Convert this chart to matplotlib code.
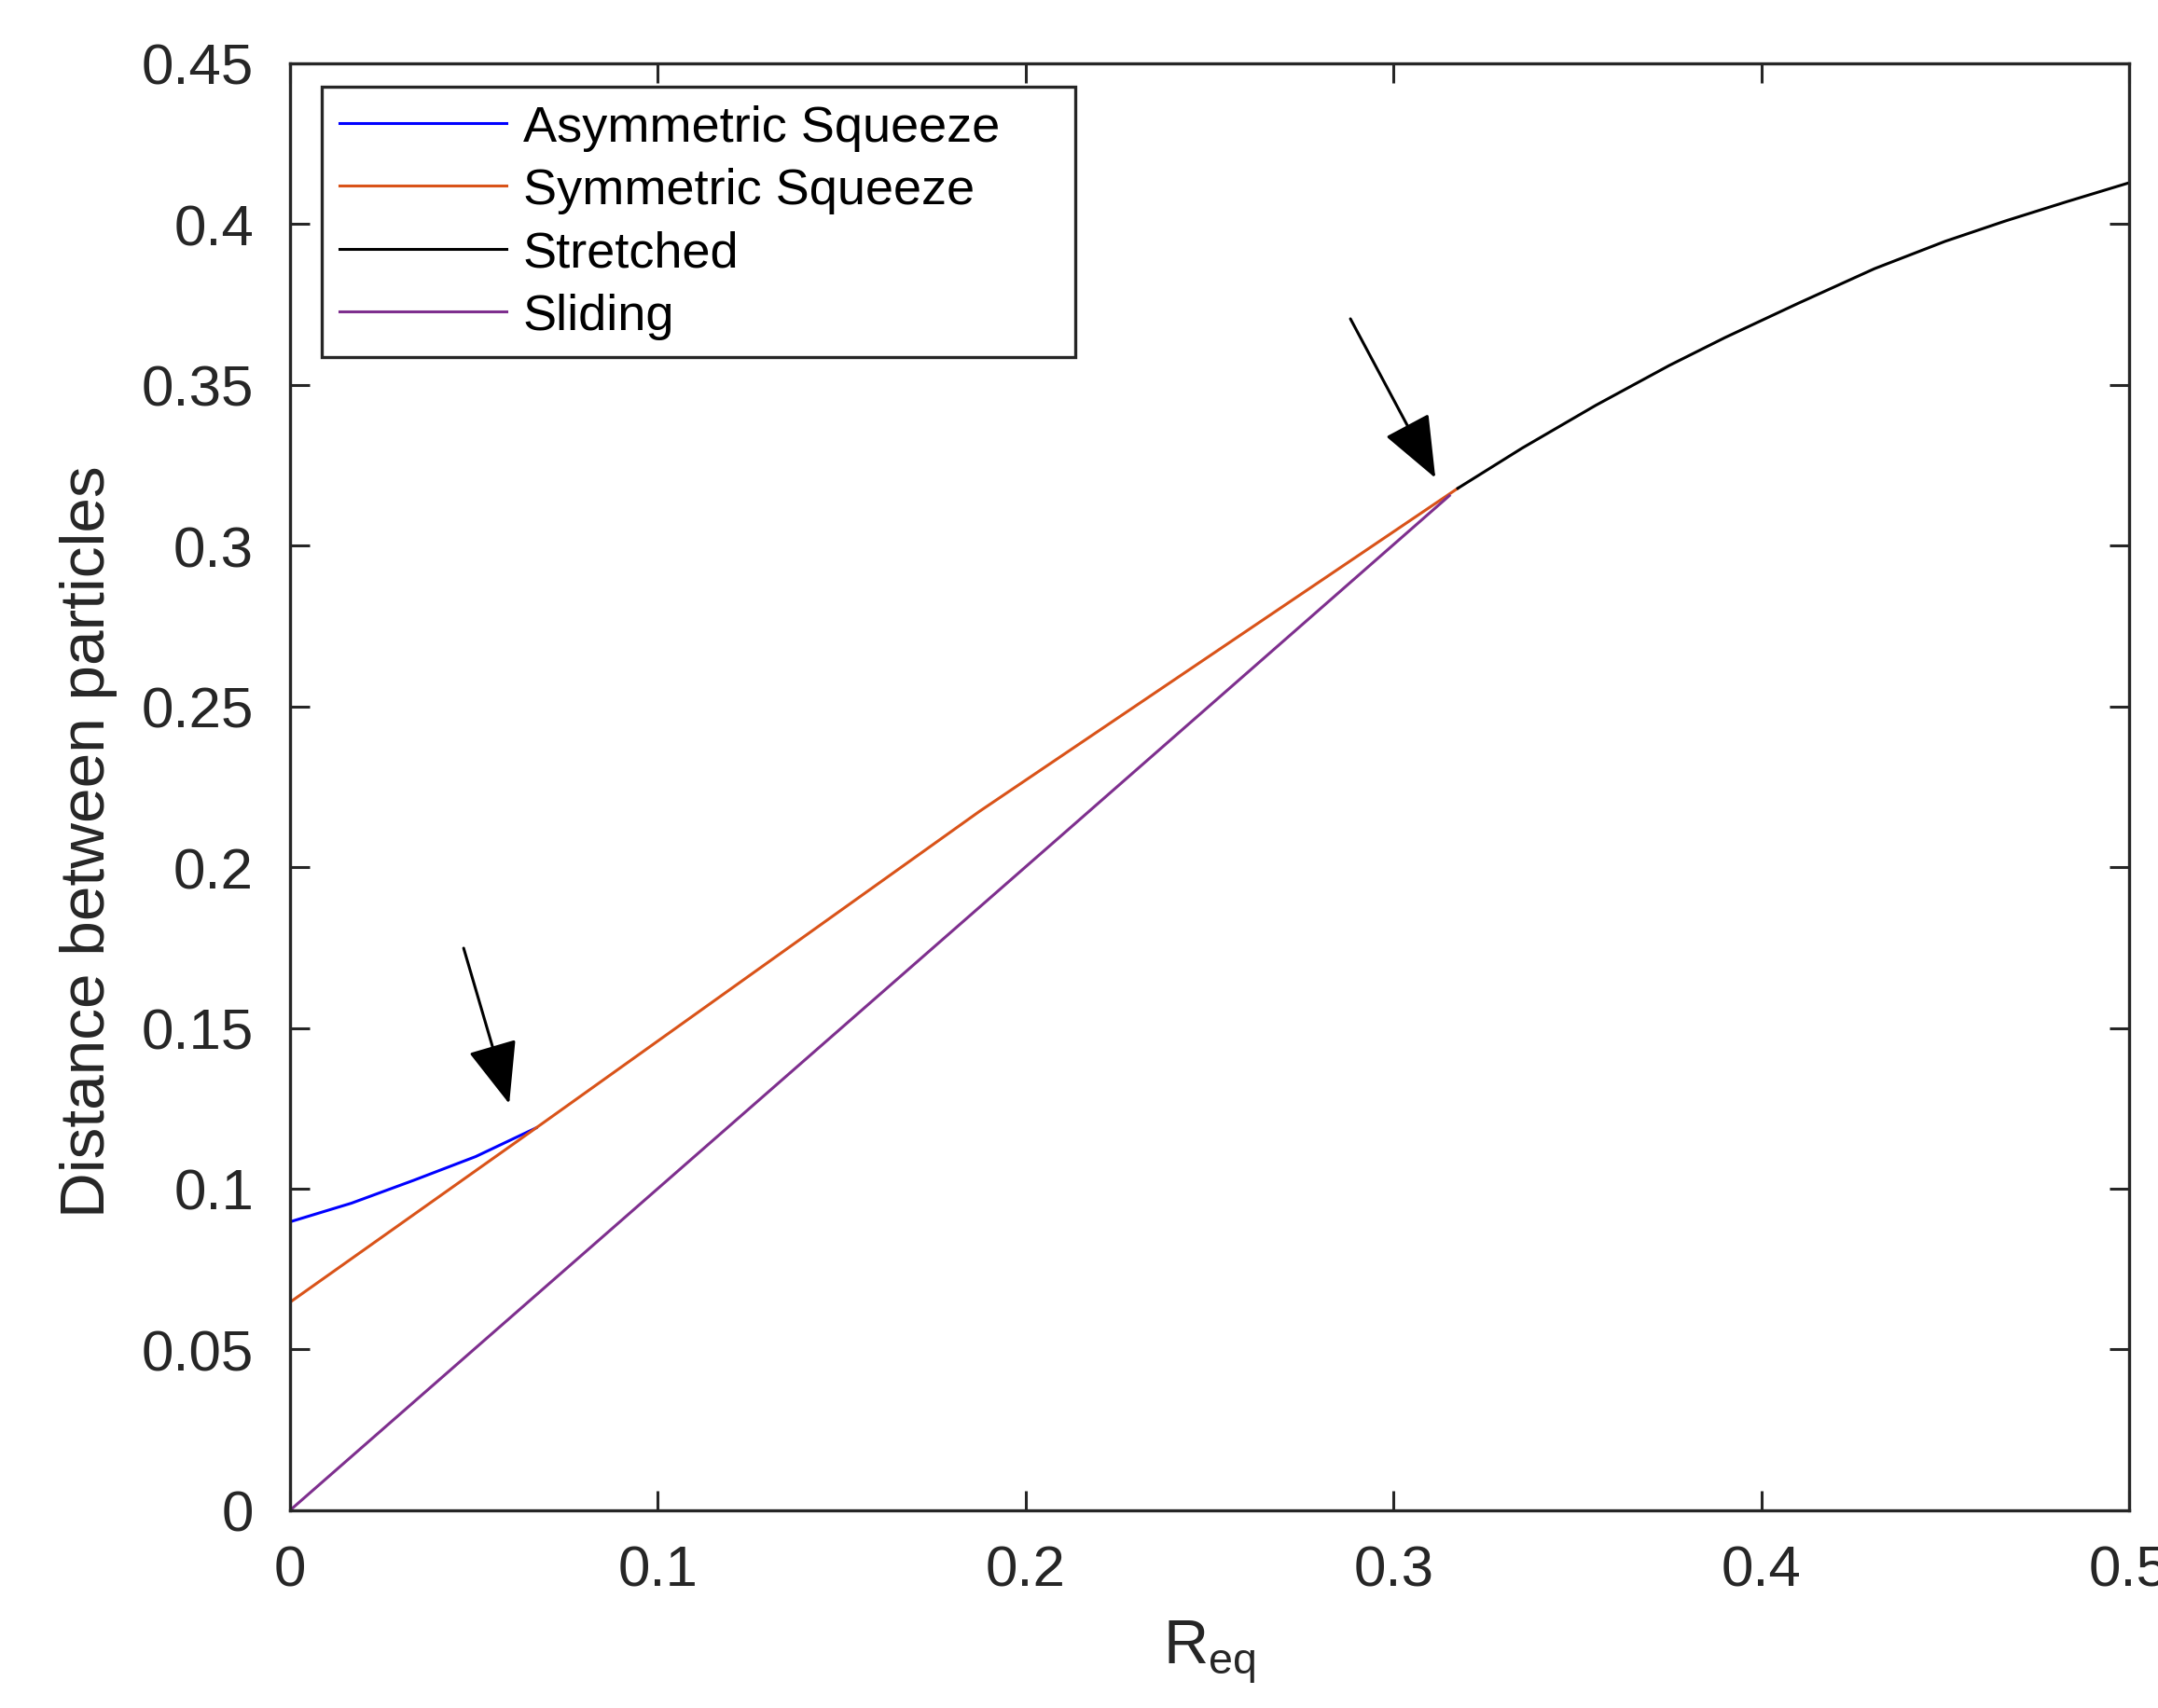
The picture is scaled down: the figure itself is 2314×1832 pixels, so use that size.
import matplotlib
matplotlib.use("Agg")
import matplotlib.pyplot as plt

plt.rcParams['font.family'] = ['Liberation Sans', 'DejaVu Sans']
plt.rcParams['mathtext.fontset'] = 'custom'
plt.rcParams['mathtext.rm'] = 'Liberation Sans'

# curves
asym_x = [0.0, 0.0167, 0.0336, 0.0505, 0.0669]
asym_y = [0.0897, 0.0955, 0.1026, 0.1100, 0.1189]

sym_x = [0.0, 0.0669, 0.1874, 0.3175]
sym_y = [0.0647, 0.1189, 0.2173, 0.3178]

stretch_x = [0.3175, 0.335, 0.355, 0.375, 0.3902, 0.41, 0.4308, 0.45, 0.4663, 0.483, 0.5]
stretch_y = [0.3178, 0.3303, 0.3436, 0.3560, 0.3647, 0.3753, 0.3861, 0.3946, 0.4009, 0.4069, 0.4128]

slide_x = [0.0, 0.2089, 0.3152]
slide_y = [0.0, 0.2090, 0.3155]

labels = ["Asymmetric Squeeze", "Symmetric Squeeze", "Stretched", "Sliding"]
colors = [(0, 0, 1), (0.85, 0.325, 0.098), (0, 0, 0), (0.494, 0.184, 0.556)]

# arrows (tail, tip) in data units
arrow_tails = [(0.0472, 0.1748), (0.2883, 0.3705)]
arrow_tips = [(0.0596, 0.1264), (0.3114, 0.3210)]

xticks = [0, 0.1, 0.2, 0.3, 0.4, 0.5]
yticks = [0, 0.05, 0.1, 0.15, 0.2, 0.25, 0.3, 0.35, 0.4, 0.45]

axcol = (0.15, 0.15, 0.15)

fig = plt.figure(figsize=(11.57, 9.165), dpi=200)
fig.subplots_adjust(left=0.1344, right=0.9866, bottom=0.1157, top=0.9625)
ax = fig.add_subplot(111)

lw = 1.1
ax.plot(asym_x, asym_y, color=colors[0], lw=lw, label=labels[0])
ax.plot(sym_x, sym_y, color=colors[1], lw=lw, label=labels[1])
ax.plot(stretch_x, stretch_y, color=colors[2], lw=lw, label=labels[2])
ax.plot(slide_x, slide_y, color=colors[3], lw=lw, label=labels[3])

for tail, tip in zip(arrow_tails, arrow_tips):
    ax.annotate('', xy=tip, xytext=tail,
                arrowprops=dict(arrowstyle='-|>,head_length=1.05,head_width=0.42',
                                mutation_scale=20, lw=1.1, color='k',
                                shrinkA=0, shrinkB=0))

ax.set_xlim(0, 0.5)
ax.set_ylim(0, 0.45)
ax.set_xticks(xticks)
ax.set_yticks(yticks)
ax.set_xticklabels(['0', '0.1', '0.2', '0.3', '0.4', '0.5'])
ax.set_yticklabels(['0', '0.05', '0.1', '0.15', '0.2', '0.25', '0.3', '0.35', '0.4', '0.45'])
ax.tick_params(direction='in', length=7.6, width=1.1, colors=axcol,
               labelsize=22.3, top=True, right=True)
ax.tick_params(axis='y', pad=14)
ax.tick_params(axis='x', pad=13)
for s in ax.spines.values():
    s.set_color(axcol)
    s.set_linewidth(1.2)

ax.set_xlabel(r'R$_\mathregular{eq}$', fontsize=24, color=axcol, labelpad=8)
ax.set_ylabel('Distance between particles', fontsize=24.3, color=axcol)
ax.yaxis.set_label_coords(-0.094, 0.463)

leg = ax.legend(loc='upper left', bbox_to_anchor=(0.0172, 0.800, 0.4098, 0.1837),
                mode='expand', fontsize=19.5,
                frameon=True, fancybox=False, framealpha=1, edgecolor=axcol,
                handlelength=3.3, handletextpad=0.33, labelspacing=0.32,
                borderpad=0.35, borderaxespad=0)
leg.get_frame().set_linewidth(1.2)

plt.savefig("out.png", dpi=200)
